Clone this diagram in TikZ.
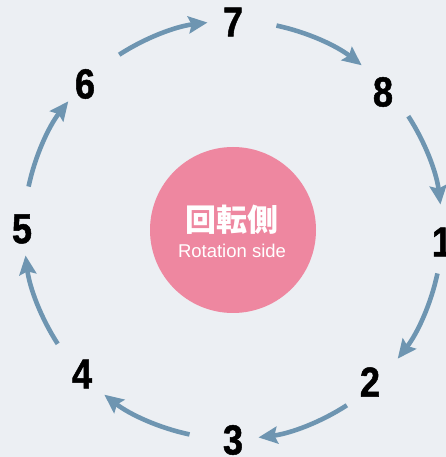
\documentclass[tikz,border=0pt]{standalone}
\usepackage{fontspec}
\setmainfont{Liberation Sans}
\newfontfamily\numfont[FakeStretch=0.86,FakeBold=1.2]{Liberation Sans}
\newfontfamily\cjk{Noto Sans CJK JP}
\usetikzlibrary{arrows.meta}
\definecolor{bgc}{HTML}{ECEFF3}
\definecolor{arrc}{HTML}{6E95B1}
\definecolor{pinkc}{HTML}{EE87A0}
\tikzset{
  num/.style={inner sep=0pt, font=\numfont\bfseries\fontsize{42}{42}\selectfont},
  cyc/.style={draw=arrc, line width=4.6pt, -{Stealth[length=19pt,width=17pt,inset=3pt]}}
}
\begin{document}
\begin{tikzpicture}[x=1pt,y=1pt]
\fill[bgc] (0,0) rectangle (446,457);
\useasboundingbox (0,0) rectangle (446,457);
\node[circle, fill=pinkc, minimum size=166pt, inner sep=0pt] (c) at (233,227) {};
\node[inner sep=0pt, text=white, font=\cjk\bfseries\fontsize{31}{31}\selectfont] (jp) at (232,237) {回転側};
\node[inner sep=0pt, text=white, font=\fontsize{18.5}{18.5}\selectfont] (en) at (232,206) {Rotation side};
\node[num] (n7) at (233,435) {7};
\node[num] (n8) at (383,365) {8};
\node[num] (n1) at (442,215) {1};
\node[num] (n2) at (370,75) {2};
\node[num] (n3) at (233,17) {3};
\node[num] (n4) at (82,83) {4};
\node[num] (n5) at (22,228) {5};
\node[num] (n6) at (85,373) {6};
\foreach \t in {90,45,0,-45,-90,-135,-180,-225}{
  \draw[cyc] (c.center) ++(\t-12:209) arc[start angle=\t-12, end angle=\t-38, radius=209];
}
\end{tikzpicture}
\end{document}
